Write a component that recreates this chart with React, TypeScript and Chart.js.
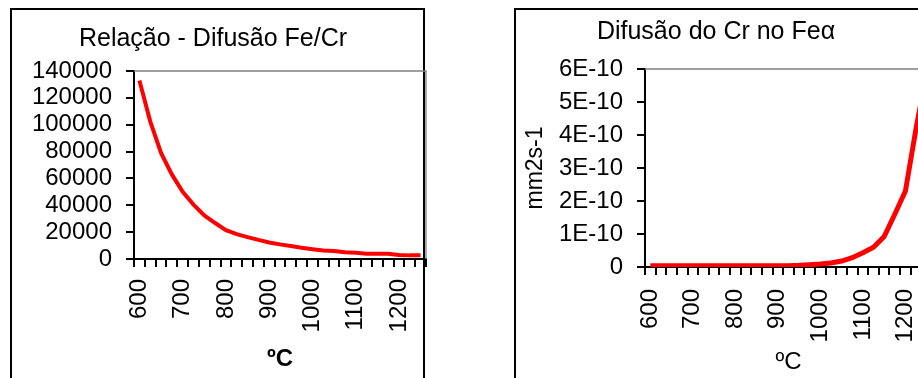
import React, { useEffect, useRef } from 'react';
import { Chart, registerables } from 'chart.js';

Chart.register(...registerables);

// ---- data ----
const temperatures = [
  600, 625, 650, 675, 700, 725, 750, 775, 800, 825, 850, 875, 900, 925,
  950, 975, 1000, 1025, 1050, 1075, 1100, 1125, 1150, 1175, 1200, 1225, 1250,
];
const xTickLabels = ['600', '700', '800', '900', '1000', '1100', '1200'];

// Relação Fe/Cr
const ratioFeCr = [
  133000, 102500, 79000, 63000, 50000, 40500, 32500, 26800, 21500, 18500,
  16300, 14200, 12300, 10900, 9700, 8400, 7300, 6300, 6000, 5000, 4700,
  4000, 4000, 3900, 3000, 2700, 2700,
];
const leftYMax = 140000;
const leftYStep = 20000;

// Difusão do Cr no Fe alfa (mm2 s-1)
const diffCrFe = [
  0.04e-10, 0.04e-10, 0.04e-10, 0.04e-10, 0.04e-10, 0.04e-10, 0.04e-10,
  0.04e-10, 0.04e-10, 0.04e-10, 0.04e-10, 0.04e-10, 0.04e-10, 0.04e-10,
  0.05e-10, 0.07e-10, 0.09e-10, 0.12e-10, 0.18e-10, 0.28e-10, 0.43e-10,
  0.6e-10, 0.92e-10, 1.6e-10, 2.3e-10, 4.2e-10, 5.9e-10,
];
const rightYTickLabels = ['0', '1E-10', '2E-10', '3E-10', '4E-10', '5E-10', '6E-10'];
const rightYMax = 6e-10;
const rightYStep = 1e-10;

const FONT = "'Liberation Sans', Arial, Helvetica, sans-serif";
const FS = 24;
const TITLE_FS = 25;

const plotBorder = {
  id: 'plotBorder',
  beforeDatasetsDraw(chart: any) {
    const { ctx, chartArea } = chart;
    ctx.save();
    ctx.strokeStyle = '#808080';
    ctx.lineWidth = 1.3;
    ctx.beginPath();
    ctx.moveTo(chartArea.left, chartArea.top);
    ctx.lineTo(chartArea.right, chartArea.top);
    ctx.lineTo(chartArea.right, chartArea.bottom);
    ctx.stroke();
    ctx.restore();
  },
};

function xTickCallback(_v: any, index: number) {
  const t = String(temperatures[index]);
  return xTickLabels.includes(t) ? t : '';
}

function makeConfig(opts: {
  title: string;
  titlePad: { top: number; bottom: number };
  data: number[];
  lineWidth: number;
  yMax: number;
  yStep: number;
  yCallback: (v: any, i: number) => string;
  yWidth: number;
  yTitle?: string;
  yTitlePad?: number;
  xHeight: number;
  xTitleBold: boolean;
  xTitlePadBottom: number;
  xLabelPad: number;
  padRight: number;
}): any {
  return {
    type: 'line',
    data: {
      labels: temperatures.map(String),
      datasets: [
        {
          data: opts.data,
          borderColor: '#ff0000',
          borderWidth: opts.lineWidth,
          pointRadius: 0,
          tension: 0,
          fill: false,
        },
      ],
    },
    options: {
      animation: false,
      responsive: false,
      maintainAspectRatio: false,
      events: [],
      layout: { padding: { left: 0, right: opts.padRight, top: 0, bottom: 0 } },
      plugins: {
        legend: { display: false },
        tooltip: { enabled: false },
        title: {
          display: true,
          text: opts.title,
          color: '#000',
          font: { family: FONT, size: TITLE_FS, weight: 'normal', lineHeight: 1.2 },
          padding: opts.titlePad,
        },
      },
      scales: {
        x: {
          type: 'category',
          offset: true,
          grid: {
            offset: true,
            display: true,
            drawOnChartArea: false,
            drawTicks: true,
            tickLength: 8,
            color: '#000',
            lineWidth: 2,
          },
          border: { display: true, color: '#000', width: 2 },
          ticks: {
            autoSkip: false,
            minRotation: 90,
            maxRotation: 90,
            padding: opts.xLabelPad,
            color: '#000',
            font: { family: FONT, size: FS },
            callback: xTickCallback,
          },
          title: {
            display: true,
            text: 'ºC',
            color: '#000',
            font: { family: FONT, size: FS, weight: opts.xTitleBold ? 'bold' : 'normal', lineHeight: 1.2 },
            padding: { top: 0, bottom: opts.xTitlePadBottom },
          },
          afterFit: (s: any) => {
            s.height = opts.xHeight;
            s.paddingLeft = 0;
            s.paddingRight = 0;
          },
        },
        y: {
          min: 0,
          max: opts.yMax,
          grid: {
            display: true,
            drawOnChartArea: false,
            drawTicks: true,
            tickLength: 8,
            color: '#000',
            lineWidth: 2,
          },
          border: { display: true, color: '#000', width: 2 },
          ticks: {
            autoSkip: false,
            stepSize: opts.yStep,
            padding: 14,
            color: '#000',
            font: { family: FONT, size: FS },
            callback: opts.yCallback,
          },
          title: opts.yTitle
            ? {
                display: true,
                text: opts.yTitle,
                color: '#000',
                font: { family: FONT, size: 23, weight: 'normal', lineHeight: 1.2 },
                padding: { top: opts.yTitlePad || 0, bottom: 0 },
              }
            : { display: false },
          afterFit: (s: any) => {
            s.width = opts.yWidth;
            s.paddingTop = 0;
            s.paddingBottom = 0;
          },
        },
      },
    },
    plugins: [plotBorder],
  };
}

function ChartCanvas({ config, left, width }: { config: any; left: number; width: number }) {
  const ref = useRef<HTMLCanvasElement>(null);
  useEffect(() => {
    const chart = new Chart(ref.current as HTMLCanvasElement, config);
    return () => chart.destroy();
  }, []);
  return (
    <canvas
      ref={ref}
      width={width}
      height={378}
      style={{ position: 'absolute', left, top: 0, width, height: 378 }}
    />
  );
}

export default function App() {
  const leftConfig = makeConfig({
    title: 'Relação - Difusão Fe/Cr',
    titlePad: { top: 23.8, bottom: 17.2 },
    data: ratioFeCr,
    lineWidth: 4,
    yMax: leftYMax,
    yStep: leftYStep,
    yCallback: (v: any) => String(Math.round(v)),
    yWidth: 134,
    xHeight: 119,
    xTitleBold: true,
    xTitlePadBottom: 4.6,
    xLabelPad: 12,
    padRight: 8,
  });
  const rightConfig = makeConfig({
    title: 'Difusão do Cr no Feα',
    titlePad: { top: 17, bottom: 22 },
    data: diffCrFe,
    lineWidth: 5,
    yMax: rightYMax,
    yStep: rightYStep,
    yCallback: (_v: any, i: number) => rightYTickLabels[i],
    yWidth: 145,
    yTitle: 'mm2s-1',
    yTitlePad: 21.5,
    xHeight: 111,
    xTitleBold: false,
    xTitlePadBottom: 1.6,
    xLabelPad: 14,
    padRight: 15,
  });
  return (
    <div
      style={{
        position: 'fixed',
        left: 0,
        top: 0,
        width: 918,
        height: 378,
        overflow: 'hidden',
        background: '#fff',
      }}
    >
      <div
        style={{
          position: 'absolute',
          left: 10,
          top: 8,
          width: 415,
          height: 420,
          border: '2px solid #000',
          boxSizing: 'border-box',
        }}
      />
      <div
        style={{
          position: 'absolute',
          left: 514,
          top: 8,
          width: 430,
          height: 420,
          border: '2px solid #000',
          boxSizing: 'border-box',
        }}
      />
      <ChartCanvas config={leftConfig} left={0} width={434} />
      <ChartCanvas config={rightConfig} left={500} width={447} />
    </div>
  );
}
